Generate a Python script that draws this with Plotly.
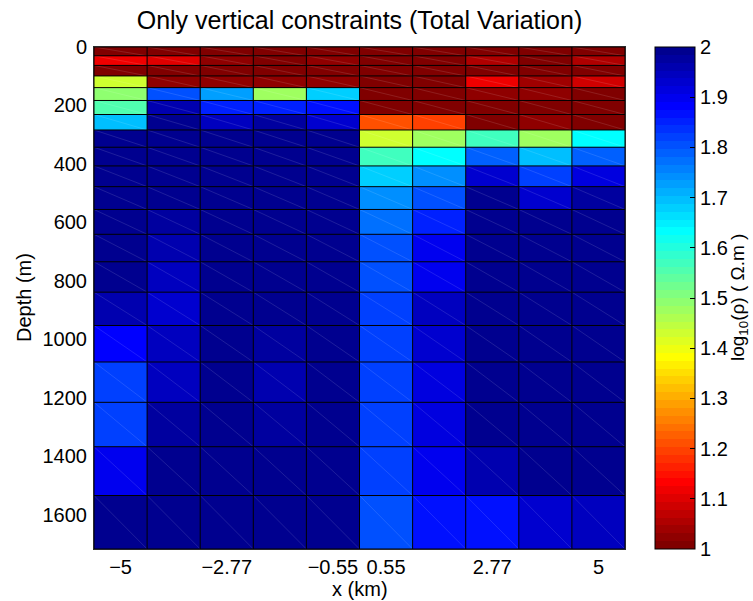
import numpy as np
import plotly.graph_objects as go

# Horizontal cell centres (km) and their axis labels
x_centers = [-5.0, -3.889, -2.778, -1.667, -0.556, 0.556, 1.667, 2.778, 3.889, 5.0]
x_tick_vals = [-5.0, -2.778, -0.556, 0.556, 2.778, 5.0]
x_tick_text = ["\u22125", "\u22122.77", "\u22120.55", "0.55", "2.77", "5"]

# Layer boundaries (m), thickening with depth
depth_edges = [0, 30, 63, 99, 139, 183, 231, 284, 343, 407, 478,
               556, 641, 735, 839, 953, 1078, 1216, 1368, 1535, 1718]
y_tick_vals = [0, 200, 400, 600, 800, 1000, 1200, 1400, 1600]

# log10 resistivity for each layer (rows, top to bottom) and column (left to right)
log_rho = [
    [1.01, 1.01, 1.01, 1.01, 1.01, 1.00, 1.00, 1.01, 1.00, 1.00],
    [1.115, 1.10, 1.025, 1.01, 1.025, 1.005, 1.01, 1.05, 1.01, 1.055],
    [1.01, 1.01, 1.01, 1.005, 1.01, 1.005, 1.01, 1.01, 1.005, 1.01],
    [1.425, 1.02, 1.03, 1.02, 1.02, 1.00, 1.00, 1.11, 1.04, 1.08],
    [1.49, 1.80, 1.725, 1.47, 1.68, 1.00, 1.005, 1.025, 1.025, 1.005],
    [1.56, 1.96, 1.85, 1.855, 1.86, 1.01, 1.00, 1.00, 1.01, 1.00],
    [1.70, 1.99, 1.94, 1.975, 1.925, 1.21, 1.20, 1.00, 1.025, 1.01],
    [1.99, 1.99, 1.99, 1.99, 1.99, 1.43, 1.47, 1.575, 1.47, 1.64],
    [1.995, 1.995, 1.995, 1.995, 1.995, 1.57, 1.625, 1.79, 1.70, 1.79],
    [1.995, 1.995, 1.995, 1.995, 1.995, 1.675, 1.74, 1.925, 1.825, 1.91],
    [1.995, 1.995, 1.995, 1.995, 1.995, 1.74, 1.80, 1.99, 1.925, 1.975],
    [1.99, 1.98, 1.99, 1.99, 1.99, 1.775, 1.85, 1.99, 1.99, 1.99],
    [1.99, 1.965, 1.99, 1.99, 1.99, 1.80, 1.90, 1.99, 1.985, 1.985],
    [1.99, 1.95, 1.985, 1.985, 1.985, 1.81, 1.90, 1.985, 1.985, 1.99],
    [1.96, 1.93, 1.99, 1.99, 1.99, 1.825, 1.94, 1.995, 1.99, 1.99],
    [1.875, 1.945, 1.99, 1.97, 1.99, 1.825, 1.93, 1.995, 1.985, 1.99],
    [1.825, 1.945, 1.99, 1.96, 1.99, 1.825, 1.92, 1.995, 1.985, 1.985],
    [1.825, 1.975, 1.985, 1.975, 1.985, 1.825, 1.92, 1.99, 1.985, 1.985],
    [1.90, 1.995, 1.99, 1.99, 1.995, 1.82, 1.90, 1.955, 1.995, 1.99],
    [2.00, 1.99, 1.99, 1.99, 1.995, 1.81, 1.86, 1.865, 1.925, 1.94],
]

FONT = "Liberation Sans, Arial, Helvetica, sans-serif"
TICK_SIZE = 20


def jet(m=64):
    """MATLAB-style jet colormap with m entries."""
    n = int(np.ceil(m / 4))
    u = np.concatenate([np.arange(1, n + 1) / n, np.ones(n - 1), np.arange(n, 0, -1) / n])
    g = int(np.ceil(n / 2)) - int(m % 4 == 1) + np.arange(1, len(u) + 1)
    r = g + n
    b = g - n
    g = g[g <= m]
    r = r[r <= m]
    b = b[b >= 1]
    J = np.zeros((m, 3))
    J[r - 1, 0] = u[:len(r)]
    J[g - 1, 1] = u[:len(g)]
    J[b - 1, 2] = u[len(u) - len(b):]
    return J


# Reversed 64-step jet as a stepped plotly colorscale (low = dark red, high = dark blue)
cmap = jet(64)[::-1]
colorscale = []
for k, c in enumerate(cmap):
    col = "rgb({:d},{:d},{:d})".format(*[int(round(255 * v)) for v in c])
    colorscale.append([k / 64, col])
    colorscale.append([(k + 1) / 64, col])

# Cell x-edges from the centres
xc = np.array(x_centers)
dx = xc[1] - xc[0]
x_edges = np.concatenate([[xc[0] - dx / 2], (xc[:-1] + xc[1:]) / 2, [xc[-1] + dx / 2]])

fig = go.Figure()

fig.add_trace(go.Heatmap(
    x=x_centers,
    y=depth_edges,
    z=log_rho,
    zmin=1, zmax=2,
    colorscale=colorscale,
    colorbar=dict(
        x=1.0566, xanchor="left", xref="paper",
        y=0.5, yanchor="middle", len=1.0, lenmode="fraction",
        thickness=40, thicknessmode="pixels",
        outlinecolor="black", outlinewidth=1,
        tick0=1, dtick=0.1, ticks="inside", ticklen=5, tickcolor="black",
        tickfont=dict(family=FONT, size=TICK_SIZE, color="black"),
        ypad=0, xpad=0,
    ),
    hoverinfo="skip",
))

# Faint diagonal seams across each cell
seg_x, seg_y = [], []
for i in range(len(depth_edges) - 1):
    for j in range(len(x_centers)):
        seg_x += [x_edges[j], x_edges[j + 1], None]
        seg_y += [depth_edges[i], depth_edges[i + 1], None]
fig.add_trace(go.Scatter(
    x=seg_x, y=seg_y, mode="lines",
    line=dict(color="rgba(255,255,255,0.2)", width=0.6),
    hoverinfo="skip", showlegend=False,
))

# Black cell outlines
grid_x, grid_y = [], []
for d in depth_edges:
    grid_x += [x_edges[0], x_edges[-1], None]
    grid_y += [d, d, None]
for xe in x_edges:
    grid_x += [xe, xe, None]
    grid_y += [depth_edges[0], depth_edges[-1], None]
fig.add_trace(go.Scatter(
    x=grid_x, y=grid_y, mode="lines",
    line=dict(color="black", width=1),
    hoverinfo="skip", showlegend=False,
))

fig.update_layout(
    width=753, height=601,
    margin=dict(l=94, r=128, t=47, b=52, autoexpand=False),
    paper_bgcolor="white",
    plot_bgcolor="white",
    showlegend=False,
    title=dict(
        text="Only vertical constraints (Total Variation)",
        x=0.5, xref="paper", xanchor="center",
        y=1 - 20 / 601, yref="container", yanchor="middle",
        font=dict(family=FONT, size=25, color="black"),
    ),
    font=dict(family=FONT, color="black"),
)

fig.update_xaxes(
    range=[x_edges[0], x_edges[-1]],
    tickmode="array", tickvals=x_tick_vals, ticktext=x_tick_text,
    tickfont=dict(family=FONT, size=TICK_SIZE, color="black"),
    ticks="", ticklabelstandoff=0,
    showgrid=False, zeroline=False,
    showline=True, mirror=True, linecolor="#2a2a2a", linewidth=1,
)
fig.update_yaxes(
    range=[depth_edges[-1], depth_edges[0]],
    tickmode="array", tickvals=y_tick_vals,
    tickfont=dict(family=FONT, size=TICK_SIZE, color="black"),
    ticks="", ticklabelstandoff=2,
    showgrid=False, zeroline=False,
    showline=True, mirror=True, linecolor="#2a2a2a", linewidth=1,
)

# Axis titles
fig.add_annotation(
    text="x (km)", xref="paper", yref="paper",
    x=0.5, y=-(589 - 549) / 502, xanchor="center", yanchor="middle",
    showarrow=False, font=dict(family=FONT, size=20, color="black"),
)
fig.add_annotation(
    text="Depth (m)", xref="paper", yref="paper",
    x=-(94 - 24) / 531, y=0.5, xanchor="center", yanchor="middle",
    textangle=-90, showarrow=False, font=dict(family=FONT, size=20, color="black"),
)

# Vertical colour-bar label
fig.add_annotation(
    text="log<sub>10</sub>(\u03c1) ( \u03a9.m )",
    xref="paper", yref="paper", x=(739 - 94) / 531, y=0.5,
    xanchor="center", yanchor="middle", textangle=-90, showarrow=False,
    font=dict(family=FONT, size=19, color="black"),
)

fig.write_html("out.html")
